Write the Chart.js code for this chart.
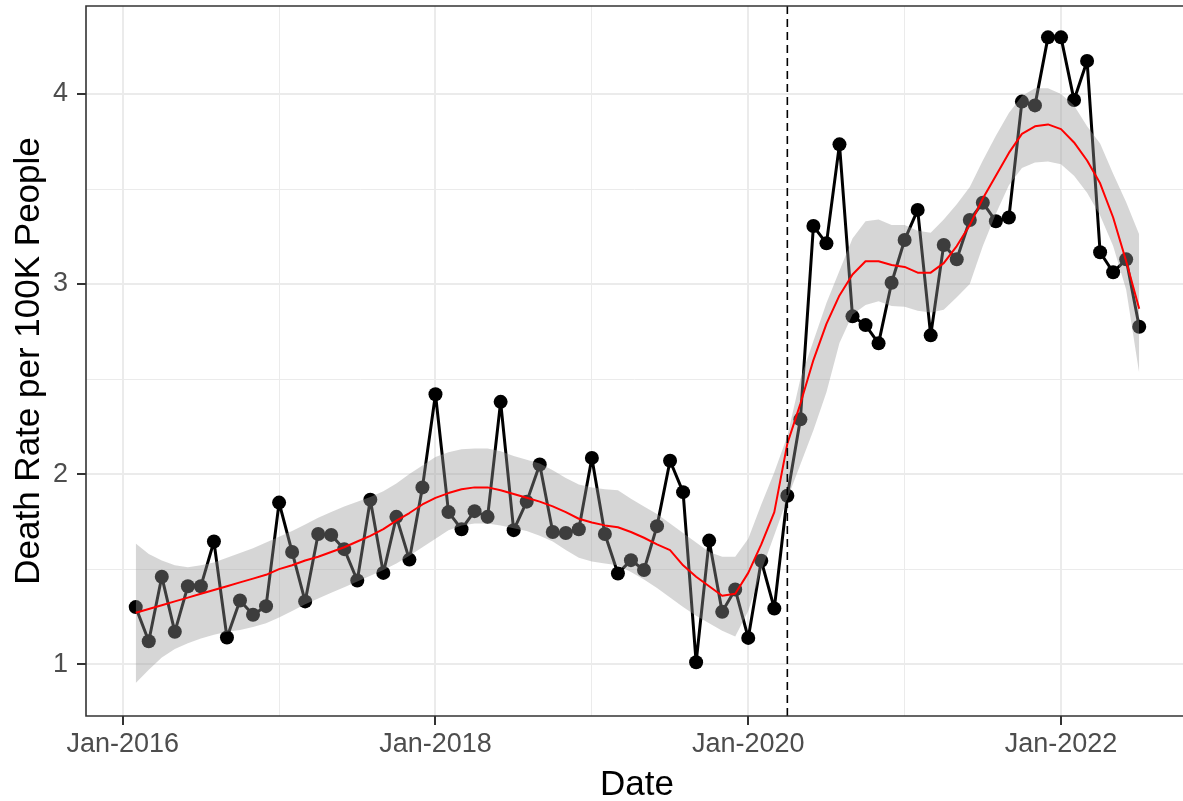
<!DOCTYPE html>
<html>
<head>
<meta charset="utf-8">
<script src="https://cdn.jsdelivr.net/npm/chart.js@4.4.1/dist/chart.umd.min.js"></script>
<style>
  html, body { margin: 0; padding: 0; background: #ffffff; }
  canvas { display: block; }
</style>
</head>
<body>
<canvas id="chart" width="1183" height="801"></canvas>
<script>
// Monthly observations, Feb-2016 .. Jul-2022
const months = [
  '2016-02','2016-03','2016-04','2016-05','2016-06','2016-07','2016-08','2016-09','2016-10','2016-11','2016-12',
  '2017-01','2017-02','2017-03','2017-04','2017-05','2017-06','2017-07','2017-08','2017-09','2017-10','2017-11','2017-12',
  '2018-01','2018-02','2018-03','2018-04','2018-05','2018-06','2018-07','2018-08','2018-09','2018-10','2018-11','2018-12',
  '2019-01','2019-02','2019-03','2019-04','2019-05','2019-06','2019-07','2019-08','2019-09','2019-10','2019-11','2019-12',
  '2020-01','2020-02','2020-03','2020-04','2020-05','2020-06','2020-07','2020-08','2020-09','2020-10','2020-11','2020-12',
  '2021-01','2021-02','2021-03','2021-04','2021-05','2021-06','2021-07','2021-08','2021-09','2021-10','2021-11','2021-12',
  '2022-01','2022-02','2022-03','2022-04','2022-05','2022-06','2022-07'
];

const deathRate = [
  1.30, 1.12, 1.46, 1.17, 1.41, 1.41, 1.645, 1.14, 1.335, 1.26, 1.305,
  1.85, 1.59, 1.33, 1.685, 1.68, 1.605, 1.44, 1.865, 1.48, 1.775, 1.55, 1.93,
  2.42, 1.80, 1.71, 1.805, 1.775, 2.38, 1.705, 1.855, 2.05, 1.695, 1.69, 1.71,
  2.085, 1.685, 1.477, 1.547, 1.495, 1.726, 2.07, 1.905, 1.01, 1.65, 1.275, 1.393,
  1.138, 1.544, 1.293, 1.886, 2.288, 3.305, 3.214, 3.735, 2.83, 2.784, 2.688, 3.007,
  3.232, 3.39, 2.73, 3.205, 3.13, 3.337, 3.428, 3.33, 3.35, 3.96, 3.94, 4.298,
  4.298, 3.968, 4.174, 3.167, 3.062, 3.13, 2.775
];

// loess fit and its confidence band
const smoothFit = [
  1.27, 1.29, 1.31, 1.33, 1.35, 1.37, 1.39, 1.41, 1.43, 1.45,
  1.47, 1.50, 1.52, 1.545, 1.565, 1.59, 1.615, 1.645, 1.675, 1.71,
  1.755, 1.795, 1.84, 1.875, 1.90, 1.92, 1.93, 1.93, 1.915, 1.895,
  1.875, 1.855, 1.83, 1.80, 1.765, 1.745, 1.73, 1.72, 1.695, 1.665,
  1.63, 1.60, 1.52, 1.46, 1.41, 1.36, 1.37, 1.48, 1.63, 1.80,
  2.16, 2.37, 2.60, 2.79, 2.94, 3.05, 3.12, 3.12, 3.10, 3.09,
  3.06, 3.06, 3.11, 3.20, 3.31, 3.45, 3.57, 3.69, 3.79, 3.83,
  3.84, 3.815, 3.745, 3.65, 3.53, 3.35, 3.12, 2.87
];
const smoothUpper = [
  1.635, 1.58, 1.545, 1.52, 1.51, 1.52, 1.535, 1.56, 1.585, 1.61,
  1.64, 1.67, 1.70, 1.735, 1.77, 1.80, 1.83, 1.855, 1.88, 1.91,
  1.95, 2.00, 2.045, 2.09, 2.115, 2.13, 2.135, 2.135, 2.12, 2.095,
  2.075, 2.055, 2.02, 1.98, 1.945, 1.93, 1.92, 1.915, 1.87, 1.83,
  1.79, 1.74, 1.69, 1.64, 1.59, 1.565, 1.565, 1.66, 1.84, 2.01,
  2.20, 2.50, 2.70, 2.90, 3.07, 3.24, 3.33, 3.34, 3.31, 3.31,
  3.28, 3.27, 3.34, 3.42, 3.51, 3.65, 3.78, 3.90, 3.99, 4.03,
  4.03, 4.00, 3.94, 3.83, 3.74, 3.58, 3.43, 3.26
];
const smoothLower = [
  0.90, 0.97, 1.035, 1.08, 1.11, 1.135, 1.155, 1.17, 1.18, 1.195,
  1.215, 1.245, 1.28, 1.315, 1.345, 1.375, 1.405, 1.435, 1.465, 1.495,
  1.53, 1.57, 1.615, 1.66, 1.705, 1.73, 1.74, 1.74, 1.73, 1.715,
  1.70, 1.675, 1.645, 1.60, 1.56, 1.54, 1.53, 1.52, 1.485, 1.445,
  1.40, 1.35, 1.30, 1.255, 1.215, 1.175, 1.145, 1.28, 1.49, 1.68,
  1.87, 2.05, 2.23, 2.43, 2.69, 2.84, 2.89, 2.91, 2.885, 2.88,
  2.86, 2.85, 2.865, 2.93, 3.00, 3.20, 3.37, 3.52, 3.61, 3.64,
  3.645, 3.63, 3.57, 3.48, 3.36, 3.20, 2.97, 2.53
];

// axis ticks
const xTickMonths = ['2016-01', '2018-01', '2020-01', '2022-01'];
const xTickLabels = ['Jan-2016', 'Jan-2018', 'Jan-2020', 'Jan-2022'];
const xMinorMonths = ['2017-01', '2019-01', '2021-01'];
const yTicks = [1, 2, 3, 4];
const yMinorTicks = [1.5, 2.5, 3.5];
const cutoffMonth = '2020-04';

// months since Jan-2016
function monthIndex(m) {
  const [y, mo] = m.split('-').map(Number);
  return (y - 2016) * 12 + (mo - 1);
}

const pts = arr => arr.map((v, i) => ({ x: monthIndex(months[i]), y: v }));

const xMajor = xTickMonths.map(monthIndex);
const xGrid = xMajor.concat(xMinorMonths.map(monthIndex)).sort((a, b) => a - b);
const yGrid = yTicks.concat(yMinorTicks).sort((a, b) => a - b);

const tickFont = { family: "'Liberation Sans', Arial, sans-serif", size: 27 };
const titleFont = "35px 'Liberation Sans', Arial, sans-serif";

// panel border, cutoff line and axis titles
const extras = {
  id: 'extras',
  afterDatasetsDraw(chart) {
    const { ctx, chartArea: a, scales } = chart;
    const xc = scales.x.getPixelForValue(monthIndex(cutoffMonth));
    ctx.save();
    ctx.strokeStyle = '#000000';
    ctx.lineWidth = 1.6;
    ctx.setLineDash([8, 5]);
    ctx.beginPath();
    ctx.moveTo(xc, a.top);
    ctx.lineTo(xc, a.bottom);
    ctx.stroke();
    ctx.setLineDash([]);
    ctx.strokeStyle = '#333333';
    ctx.lineWidth = 1.6;
    ctx.beginPath();
    ctx.moveTo(a.right + 5, a.top);
    ctx.lineTo(a.left, a.top);
    ctx.lineTo(a.left, a.bottom);
    ctx.lineTo(a.right + 5, a.bottom);
    ctx.stroke();
    ctx.restore();
  },
  afterDraw(chart) {
    const { ctx, chartArea: a } = chart;
    ctx.save();
    ctx.fillStyle = '#000000';
    ctx.font = titleFont;
    ctx.textAlign = 'center';
    ctx.textBaseline = 'alphabetic';
    ctx.fillText('Date', 637, 795);
    ctx.translate(39, (a.top + a.bottom) / 2);
    ctx.rotate(-Math.PI / 2);
    ctx.fillText('Death Rate per 100K People', 0, 0);
    ctx.restore();
  }
};

new Chart(document.getElementById('chart').getContext('2d'), {
  type: 'line',
  data: {
    datasets: [
      {
        label: 'Death rate',
        data: pts(deathRate),
        borderColor: '#000000',
        borderWidth: 3,
        borderJoinStyle: 'round',
        pointRadius: 7,
        pointBackgroundColor: '#000000',
        pointBorderWidth: 0,
        fill: false,
        order: 3
      },
      {
        label: 'lower',
        data: pts(smoothLower),
        borderWidth: 0,
        borderColor: 'rgba(0,0,0,0)',
        pointRadius: 0,
        fill: false,
        order: 2
      },
      {
        label: 'upper',
        data: pts(smoothUpper),
        borderWidth: 0,
        borderColor: 'rgba(0,0,0,0)',
        backgroundColor: 'rgba(153,153,153,0.4)',
        pointRadius: 0,
        fill: 1,
        order: 2
      },
      {
        label: 'loess',
        data: pts(smoothFit),
        borderColor: '#FF0000',
        borderWidth: 2,
        borderJoinStyle: 'round',
        pointRadius: 0,
        fill: false,
        order: 1
      }
    ]
  },
  options: {
    responsive: false,
    animation: false,
    devicePixelRatio: 1,
    layout: { autoPadding: false, padding: { top: 6, left: 0, right: 0, bottom: 0 } },
    plugins: {
      legend: { display: false },
      tooltip: { enabled: false }
    },
    scales: {
      x: {
        type: 'linear',
        min: -2.816,
        max: 81.36,
        afterBuildTicks: s => { s.ticks = xGrid.map(v => ({ value: v })); },
        afterFit: s => { s.height = 85; s.paddingLeft = 0; s.paddingRight = 0; },
        border: { display: false },
        grid: {
          color: '#EBEBEB',
          lineWidth: c => (xMajor.includes(c.tick.value) ? 2 : 1),
          tickLength: 9,
          tickWidth: 2,
          tickColor: c => (xMajor.includes(c.tick.value) ? '#333333' : 'rgba(0,0,0,0)')
        },
        ticks: {
          autoSkip: false,
          maxRotation: 0,
          padding: 3,
          color: '#4D4D4D',
          font: tickFont,
          callback: v => {
            const i = xMajor.indexOf(v);
            return i >= 0 ? xTickLabels[i] : '';
          }
        }
      },
      y: {
        min: 0.727,
        max: 4.463,
        afterBuildTicks: s => { s.ticks = yGrid.map(v => ({ value: v })); },
        afterFit: s => { s.width = 86; s.paddingTop = 0; s.paddingBottom = 0; },
        border: { display: false },
        grid: {
          color: '#EBEBEB',
          lineWidth: c => (yTicks.includes(c.tick.value) ? 2 : 1),
          tickLength: 9,
          tickWidth: 2,
          tickColor: c => (yTicks.includes(c.tick.value) ? '#333333' : 'rgba(0,0,0,0)')
        },
        ticks: {
          padding: 9,
          color: '#4D4D4D',
          font: tickFont,
          callback: v => (yTicks.includes(v) ? String(v) : '')
        }
      }
    }
  },
  plugins: [extras]
});
</script>
</body>
</html>
